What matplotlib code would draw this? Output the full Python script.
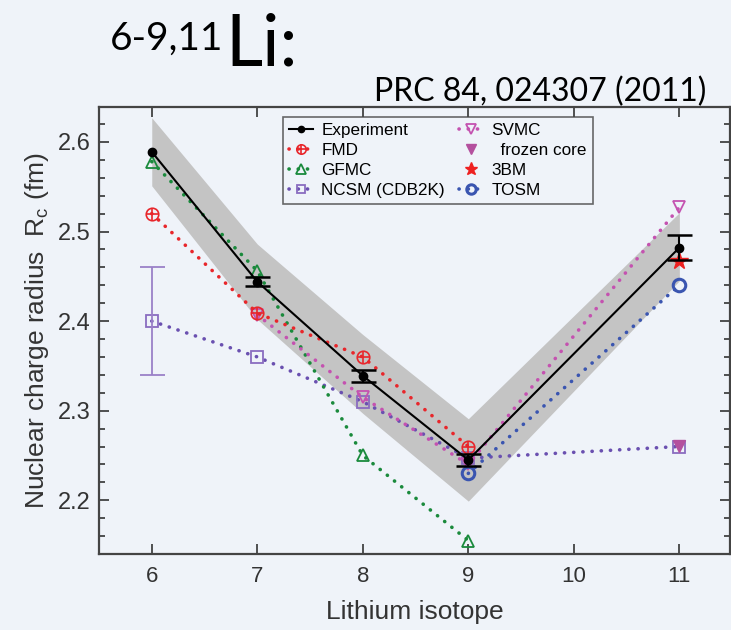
import numpy as np
import matplotlib.pyplot as plt
from matplotlib.ticker import MultipleLocator

plt.rcParams['font.family'] = ['Liberation Sans', 'DejaVu Sans']

# experiment
exp_a = [6, 7, 8, 9, 11]
exp_r = [2.589, 2.444, 2.339, 2.245, 2.482]
exp_stat = [0.0, 0.005, 0.0065, 0.007, 0.014]
band_hi = [2.627, 2.486, 2.385, 2.291, 2.521]
band_lo = [2.551, 2.402, 2.297, 2.199, 2.445]

fmd_a = [6, 7, 8, 9]
fmd_r = [2.52, 2.409, 2.36, 2.26]

gfmc_a = [6, 7, 8, 9]
gfmc_r = [2.578, 2.456, 2.25, 2.155]

ncsm_a = [6, 7, 8, 9, 11]
ncsm_r = [2.40, 2.36, 2.31, 2.247, 2.26]
ncsm_err = [0.06, 0, 0, 0, 0]

svmc_a = [7, 8, 9, 11]
svmc_r = [2.407, 2.315, 2.24, 2.527]

frozen_a = [11]
frozen_r = [2.261]

tbm_a = [11]
tbm_r = [2.467]

tosm_a = [9, 11]
tosm_r = [2.23, 2.44]

W, H = 731, 630
bg = '#eff3f9'
fig = plt.figure(figsize=(W / 100, H / 100), dpi=100, facecolor=bg)
ax = fig.add_axes([99 / W, 1 - 554 / H, (730 - 99) / W, (554 - 107) / H])
ax.set_facecolor(bg)

dots = (0, (0.05, 2.5))
dlw = 2.6

ax.fill_between(exp_a, band_lo, band_hi, color='#c4c4c4', lw=0, zorder=1)

h_ncsm, = ax.plot(ncsm_a, ncsm_r, color='#6a50b0', ls=dots, lw=dlw, dash_capstyle='round',
                  marker='s', ms=8, mfc='none', mec='#8a6cc0', mew=1.3, zorder=3)
ax.errorbar(ncsm_a[:1], ncsm_r[:1], yerr=ncsm_err[:1], fmt='none',
            ecolor='#9a80c8', elinewidth=1.3, capsize=9, capthick=1.3, zorder=3)
h_gfmc, = ax.plot(gfmc_a, gfmc_r, color='#1a8a3c', ls=dots, lw=dlw, dash_capstyle='round',
                  marker='^', ms=9, mfc='none', mec='#1a8a3c', mew=1.3, zorder=3)
h_svmc, = ax.plot(svmc_a, svmc_r, color='#c452b0', ls=dots, lw=dlw, dash_capstyle='round',
                  marker='v', ms=9, mfc='none', mec='#c452b0', mew=1.3, zorder=3)
h_fmd, = ax.plot(fmd_a, fmd_r, color='#e8262b', ls=dots, lw=dlw, dash_capstyle='round',
                 marker='o', ms=9, mfc='none', mec='#e8262b', mew=1.2, zorder=4)
h_fmd2, = ax.plot(fmd_a, fmd_r, ls='none', marker='+', ms=9, mec='#e8262b',
                  mew=1.2, zorder=4)
h_tosm, = ax.plot(tosm_a, tosm_r, color='#3a55b0', ls=dots, lw=dlw, dash_capstyle='round',
                  marker='o', ms=9, mfc='none', mec='#3a55b0', mew=2.2, zorder=4)
h_frozen, = ax.plot(frozen_a, frozen_r, ls='none', marker='v', ms=9, color='#b4509e',
                    zorder=5)
h_tbm, = ax.plot(tbm_a, tbm_r, ls='none', marker='*', ms=13, color='#ee2020', zorder=6)

h_exp, = ax.plot(exp_a, exp_r, color='black', lw=1.5, marker='o', ms=6, zorder=7)
ax.errorbar(exp_a[1:], exp_r[1:], yerr=exp_stat[1:], fmt='none', ecolor='black',
            elinewidth=1.5, capsize=9, capthick=1.8, zorder=7)

ax.set_xlim(5.5, 11.48)
ax.set_ylim(2.14, 2.639)
ax.set_xticks([6, 7, 8, 9, 10, 11])
ax.yaxis.set_major_locator(MultipleLocator(0.1))
ax.yaxis.set_minor_locator(MultipleLocator(0.02))
ax.tick_params(which='both', direction='in', top=True, right=True,
               colors='#333333', width=1.2)
ax.tick_params(axis='y', labelsize=17, pad=6)
ax.tick_params(axis='x', labelsize=16, pad=9)
ax.tick_params(which='major', length=7)
ax.tick_params(which='minor', length=4)
for s in ax.spines.values():
    s.set_color('#444444')
    s.set_linewidth(1.6)

ax.set_xlabel('Lithium isotope', fontsize=19, color='#333333', labelpad=9)
ax.set_ylabel('Nuclear charge radius  R$_\\mathregular{c}$ (fm)', fontsize=19,
              color='#333333', labelpad=5)

handles = [h_exp, (h_fmd, h_fmd2), h_gfmc, h_ncsm, h_svmc, h_frozen, h_tbm, h_tosm]
labels = ['Experiment', 'FMD', 'GFMC', 'NCSM (CDB2K)', 'SVMC', '  frozen core', '3BM', 'TOSM']
leg = ax.legend(handles, labels, ncol=2, fontsize=12.3,
                loc='upper left', bbox_to_anchor=((283 - 99) / (730 - 99), 1 - 10 / 447),
                frameon=True, fancybox=False, edgecolor='#444444',
                handlelength=1.4, handletextpad=0.5, columnspacing=0.8,
                labelspacing=0.3, borderpad=0.35, borderaxespad=0, markerscale=0.75)
leg.get_frame().set_facecolor('none')
leg.get_frame().set_linewidth(1.2)

fig.text(110 / W, 1 - 50 / H, '6-9,11', fontsize=28, family='Lato', va='baseline')
fig.text(225 / W, 1 - 65 / H, 'Li:', fontsize=52, family='Lato', va='baseline')
fig.text(706 / W, 1 - 101 / H, 'PRC 84, 024307 (2011)', fontsize=23, family='Lato',
         ha='right', va='baseline')

fig.savefig('out.png', dpi=100, facecolor=bg)
